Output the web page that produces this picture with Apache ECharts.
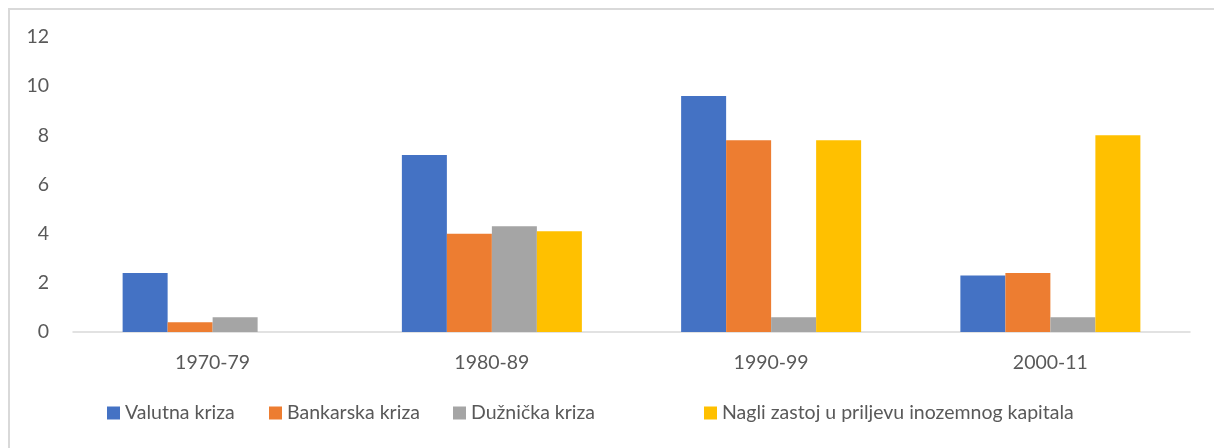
<!DOCTYPE html>
<html>
<head>
<meta charset="utf-8">
<script src="https://cdn.jsdelivr.net/npm/echarts@6/dist/echarts.min.js"></script>
<style>
  html, body { margin: 0; padding: 0; background: #fff; }
  #chart { width: 1214px; height: 448px; }
</style>
</head>
<body>
<div id="chart"></div>
<script>
// podaci s grafikona
var categories = ['1970-79', '1980-89', '1990-99', '2000-11'];
var valutna = [2.4, 7.2, 9.6, 2.3];
var bankarska = [0.4, 4.0, 7.8, 2.4];
var duznicka = [0.6, 4.3, 0.6, 0.6];
var nagliZastoj = [0, 4.1, 7.8, 8.0];
var yTicks = [0, 2, 4, 6, 8, 10, 12];

var seriesNames = ['Valutna kriza', 'Bankarska kriza', 'Dužnička kriza', 'Nagli zastoj u priljevu inozemnog kapitala'];
var colors = ['#4472C4', '#ED7D31', '#A5A5A5', '#FFC000'];
var seriesValues = [valutna, bankarska, duznicka, nagliZastoj];

var fontFamily = 'Lato';
var fontSize = 19.5;
// x pozicije legendi (kao u Excelu)
var legendLeft = [107, 269, 453, 704];

var chart = echarts.init(document.getElementById('chart'));

chart.setOption({
  animation: false,
  color: colors,
  textStyle: { fontFamily: fontFamily },
  graphic: [{
    type: 'rect',
    shape: { x: 9, y: 9, width: 1240, height: 480 },
    style: { fill: 'none', stroke: '#D9D9D9', lineWidth: 2 },
    silent: true
  }],
  grid: { left: 73, right: 24, top: 37, bottom: 116 },
  legend: seriesNames.map(function (name, i) {
    return {
      data: [name],
      left: legendLeft[i],
      top: 403,
      padding: 0,
      icon: 'rect',
      itemWidth: 13,
      itemHeight: 13,
      textStyle: { color: '#595959', fontSize: fontSize, fontFamily: fontFamily, padding: [0, 0, 0, 0] }
    };
  }),
  xAxis: {
    type: 'category',
    data: categories,
    axisLine: { lineStyle: { color: '#D9D9D9', width: 1.5 } },
    axisTick: { show: false },
    axisLabel: { color: '#595959', fontSize: fontSize, margin: 21 }
  },
  yAxis: {
    type: 'value',
    min: yTicks[0],
    max: yTicks[yTicks.length - 1],
    interval: 2,
    splitLine: { show: false },
    axisLine: { show: false },
    axisTick: { show: false },
    axisLabel: { color: '#595959', fontSize: fontSize, margin: 24 }
  },
  series: seriesValues.map(function (vals, i) {
    return {
      name: seriesNames[i],
      type: 'bar',
      data: vals,
      barWidth: 45,
      barGap: '0%'
    };
  })
});
</script>
</body>
</html>
